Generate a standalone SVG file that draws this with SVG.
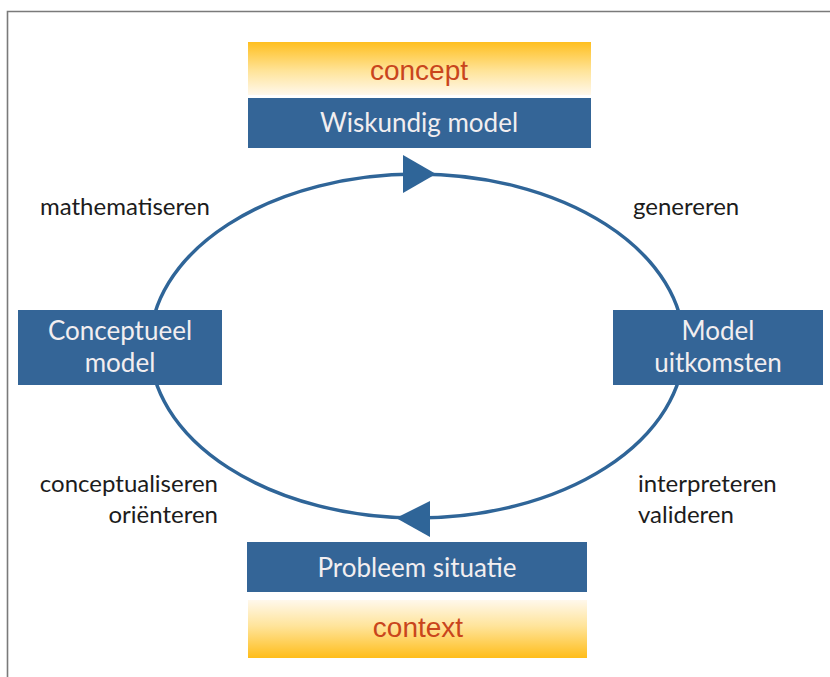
<svg xmlns="http://www.w3.org/2000/svg" width="830" height="677" viewBox="0 0 830 677">
<style>
  .box { fill: #346597; }
  .boxtxt { font-family: Lato, "Open Sans", sans-serif; font-size: 26px; fill: #f2eef0; text-anchor: middle; }
  .lbl { font-family: Lato, "Open Sans", sans-serif; font-size: 24px; fill: #1c1c1c; }
  .ctx { font-family: "Liberation Sans", Arial, sans-serif; font-size: 28px; fill: #c9451c; text-anchor: middle; }
  .ring { fill: none; stroke: #2f6598; stroke-width: 3.5; }
  .head { fill: #2f6598; }
</style>
<defs>
  <linearGradient id="gTop" x1="0" y1="0" x2="0" y2="1">
    <stop offset="0" stop-color="#ffbf1f"/>
    <stop offset="0.55" stop-color="#ffe49a"/>
    <stop offset="1" stop-color="#fff8ec"/>
  </linearGradient>
  <linearGradient id="gBot" x1="0" y1="0" x2="0" y2="1">
    <stop offset="0" stop-color="#fff8ec"/>
    <stop offset="0.45" stop-color="#ffe49a"/>
    <stop offset="1" stop-color="#ffbd1a"/>
  </linearGradient>
</defs>
<rect x="0" y="0" width="830" height="677" fill="#ffffff"/>
<path d="M7.5 677 V11.5 H830" fill="none" stroke="#7a7a7a" stroke-width="1.6"/>

<g id="connectors">
  <ellipse class="ring" cx="417" cy="346" rx="267" ry="172"/>
  <polygon class="head" points="403,155 436,174 403,193"/>
  <polygon class="head" points="430,501 396,518 430,537"/>
</g>

<g id="concept">
  <rect x="248" y="42" width="343" height="53" fill="url(#gTop)"/>
  <text class="ctx" x="419" y="80">concept</text>
</g>
<g id="wiskundig-model">
  <rect class="box" x="248" y="98" width="343" height="50"/>
  <text class="boxtxt" x="419" y="132">Wiskundig model</text>
</g>
<g id="conceptueel-model">
  <rect class="box" x="18" y="310" width="204" height="75"/>
  <text class="boxtxt" x="120" y="340">Conceptueel</text>
  <text class="boxtxt" x="120" y="372">model</text>
</g>
<g id="model-uitkomsten">
  <rect class="box" x="613" y="310" width="210" height="75"/>
  <text class="boxtxt" x="718" y="340">Model</text>
  <text class="boxtxt" x="718" y="372">uitkomsten</text>
</g>
<g id="probleem-situatie">
  <rect class="box" x="247" y="542" width="340" height="50"/>
  <text class="boxtxt" x="417" y="577">Probleem situatie</text>
</g>
<g id="context">
  <rect x="248" y="600" width="339" height="58" fill="url(#gBot)"/>
  <text class="ctx" x="418" y="637">context</text>
</g>

<g id="labels">
  <text class="lbl" x="40" y="215">mathematiseren</text>
  <text class="lbl" x="633" y="215">genereren</text>
  <text class="lbl" x="218" y="492" text-anchor="end">conceptualiseren</text>
  <text class="lbl" x="218" y="523" text-anchor="end">oriënteren</text>
  <text class="lbl" x="638" y="492">interpreteren</text>
  <text class="lbl" x="638" y="523">valideren</text>
</g>
</svg>
